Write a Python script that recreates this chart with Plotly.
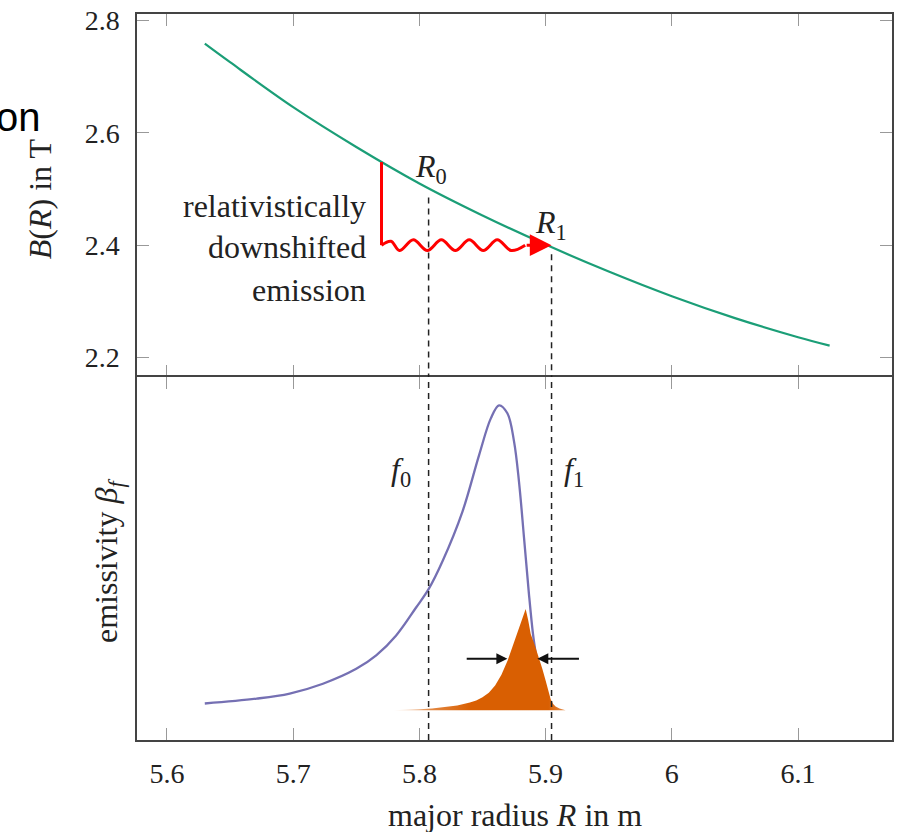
import plotly.graph_objects as go

# ---------------- data ----------------
# top panel: magnetic field B(R)
B_R = [5.630, 5.650, 5.700, 5.750, 5.800, 5.850, 5.900, 5.950, 6.000, 6.050, 6.100, 6.125]
B_T = [2.759, 2.726, 2.646, 2.575, 2.510, 2.453, 2.401, 2.353, 2.309, 2.270, 2.236, 2.221]

# bottom panel: emissivity (arbitrary units, 0..1 of panel)
emis_R = [5.630, 5.6711, 5.6973, 5.7236, 5.750, 5.7658, 5.7816, 5.7974, 5.8073, 5.8184,
          5.8342, 5.8473, 5.8566, 5.8631, 5.8697, 5.8750, 5.8789, 5.8829, 5.8868, 5.8900, 5.8926]
emis_v = [0.1005, 0.114, 0.128, 0.155, 0.196, 0.233, 0.288, 0.365, 0.4155, 0.493,
          0.630, 0.785, 0.886, 0.922, 0.900, 0.822, 0.712, 0.557, 0.402, 0.292, 0.228]

# orange (narrow) emission line
peak_R = [5.779, 5.790, 5.800, 5.810, 5.820, 5.830, 5.840, 5.845, 5.850, 5.855, 5.860, 5.865,
          5.870, 5.875, 5.880, 5.8842, 5.8862, 5.8882, 5.8915, 5.8947, 5.8975, 5.900, 5.902,
          5.904, 5.906, 5.9079, 5.911, 5.9158]
peak_v = [0.082, 0.083, 0.085, 0.087, 0.090, 0.095, 0.103, 0.109, 0.118, 0.130, 0.150, 0.180,
          0.220, 0.268, 0.318, 0.361, 0.330, 0.292, 0.260, 0.228, 0.195, 0.164, 0.135,
          0.112, 0.099, 0.092, 0.087, 0.084]
peak_base = 0.082

# annotation positions
R0 = 5.8073
R1 = 5.9047
R0_dash_top = 2.485
R1_dash_top = 2.384
shift_R = 5.770
shift_B_top = 2.548
shift_B_bottom = 2.400
wave_R = [5.770, 5.7775, 5.7842, 5.7952, 5.8063, 5.8174, 5.8285, 5.8395, 5.8506, 5.8617, 5.8727, 5.8838]
wave_B = [2.400, 2.407, 2.3905, 2.4095, 2.3905, 2.4095, 2.3905, 2.4095, 2.3905, 2.4095, 2.3905, 2.400]
width_y = 0.2237
left_arrow = (5.8363, 5.8697)   # tail, tip
right_arrow = (5.9276, 5.8934)  # tail, tip

x_ticks = [5.6, 5.7, 5.8, 5.9, 6.0, 6.1]
x_ticktext = ["5.6", "5.7", "5.8", "5.9", "6", "6.1"]
y_ticks = [2.2, 2.4, 2.6, 2.8]
y_ticktext = ["2.2", "2.4", "2.6", "2.8"]

x_range = [5.5763, 6.1744]
yB_range = [2.1651, 2.8119]
yE_range = [0.0, 1.0]

GREEN = "#1b9e77"
ORANGE = "#d95f02"
PURPLE = "#7570b3"
RED = "#ff0000"
SERIF = "Liberation Serif, DejaVu Serif, serif"

fig = go.Figure()

# B(R)
fig.add_trace(go.Scatter(x=B_R, y=B_T, mode="lines", line=dict(color=GREEN, width=2.2, shape="spline"),
                         xaxis="x", yaxis="y", hoverinfo="skip"))
# red vertical
fig.add_trace(go.Scatter(x=[shift_R, shift_R], y=[shift_B_top, shift_B_bottom], mode="lines",
                         line=dict(color=RED, width=3), xaxis="x", yaxis="y", hoverinfo="skip"))
# red wave
fig.add_trace(go.Scatter(x=wave_R, y=wave_B, mode="lines",
                         line=dict(color=RED, width=3, shape="spline", smoothing=1.0),
                         xaxis="x", yaxis="y", hoverinfo="skip"))

# emissivity
fig.add_trace(go.Scatter(x=emis_R, y=emis_v, mode="lines",
                         line=dict(color=PURPLE, width=2.3, shape="spline", smoothing=1.0),
                         xaxis="x2", yaxis="y2", hoverinfo="skip"))
# orange filled peak
fig.add_trace(go.Scatter(x=peak_R + [peak_R[-1], peak_R[0]], y=peak_v + [peak_base, peak_base],
                         mode="lines", line=dict(width=0, color=ORANGE), fill="toself",
                         fillgradient=dict(type="horizontal",
                                           colorscale=[[0, "rgba(217,95,2,0.05)"],
                                                       [0.22, "rgba(217,95,2,0.75)"],
                                                       [0.45, "rgba(217,95,2,1)"],
                                                       [0.9, "rgba(217,95,2,1)"],
                                                       [1, "rgba(217,95,2,0.7)"]]),
                         xaxis="x2", yaxis="y2", hoverinfo="skip"))
# invisible trace to activate the overlay tick axis
fig.add_trace(go.Scatter(x=[x_range[0]], y=[yB_range[0]], mode="markers", marker=dict(opacity=0),
                         xaxis="x3", yaxis="y", hoverinfo="skip"))

tick_common = dict(ticks="inside", ticklen=12, tickcolor="#999", tickwidth=1.3,
                   showgrid=False, zeroline=False)
line_common = dict(showline=True, linecolor="#444", linewidth=1.5)

fig.update_layout(
    width=900, height=832,
    margin=dict(l=137, r=6, t=10, b=92),
    plot_bgcolor="white", paper_bgcolor="white",
    showlegend=False,
    font=dict(family=SERIF, size=28, color="#222"),
    # top panel: line only at the top edge, ticks pointing down
    xaxis=dict(domain=[0, 1], anchor="y", side="top", range=x_range, tickvals=x_ticks,
               showticklabels=False, mirror=False, **line_common, **tick_common),
    # overlay axis giving the upward ticks on the lower edge of the top panel (no line)
    xaxis3=dict(overlaying="x", anchor="y", side="bottom", range=x_range, tickvals=x_ticks,
                showticklabels=False, showline=False, **tick_common),
    yaxis=dict(domain=[0.5, 1], anchor="x", range=yB_range, tickvals=y_ticks, ticktext=y_ticktext,
               mirror="ticks", ticklabelstandoff=10, **line_common, **tick_common),
    xaxis2=dict(domain=[0, 1], anchor="y2", range=x_range, tickvals=x_ticks, ticktext=x_ticktext,
                mirror="ticks", ticklabelstandoff=8, **line_common, **tick_common),
    yaxis2=dict(domain=[0, 0.5], anchor="x2", range=yE_range, showticklabels=False,
                mirror=True, ticks="", showgrid=False, zeroline=False, **line_common),
)

dash = dict(color="#222", width=1.5, dash="6px,5px")
for Rv, top in [(R0, R0_dash_top), (R1, R1_dash_top)]:
    fig.add_shape(type="line", xref="x", yref="y", x0=Rv, x1=Rv, y0=top, y1=yB_range[0], line=dash)
    fig.add_shape(type="line", xref="x2", yref="y2", x0=Rv, x1=Rv, y0=yE_range[0], y1=yE_range[1], line=dash)

ann = []
# red arrow head
ann.append(dict(x=R1, y=shift_B_bottom, ax=wave_R[-1], ay=shift_B_bottom, xref="x", yref="y",
                axref="x", ayref="y", showarrow=True, arrowhead=2, arrowsize=1.45, arrowwidth=3,
                arrowcolor=RED, text="", standoff=0))
# width arrows
for tail, tip in [left_arrow, right_arrow]:
    ann.append(dict(x=tip, y=width_y, ax=tail, ay=width_y, xref="x2", yref="y2",
                    axref="x2", ayref="y2", showarrow=True, arrowhead=2, arrowsize=1.1, arrowwidth=2,
                    arrowcolor="#111", text="", standoff=0))
# labels
tfont = dict(family=SERIF, size=32, color="#222")
ann.append(dict(x=5.809, y=2.537, xref="x", yref="y", text="<i>R</i><sub>0</sub>", showarrow=False, font=tfont))
ann.append(dict(x=5.904, y=2.437, xref="x", yref="y", text="<i>R</i><sub>1</sub>", showarrow=False, font=tfont))
for txt, yy in [("relativistically", 2.470), ("downshifted", 2.396), ("emission", 2.321)]:
    ann.append(dict(x=5.7589, y=yy, xref="x", yref="y", text=txt, showarrow=False, font=tfont,
                    xanchor="right", yanchor="middle"))
ann.append(dict(x=5.7855, y=0.74, xref="x2", yref="y2", text="<i>f</i><sub>0</sub>", showarrow=False, font=tfont))
ann.append(dict(x=5.9223, y=0.74, xref="x2", yref="y2", text="<i>f</i><sub>1</sub>", showarrow=False, font=tfont))

# axis titles (pixel placed)
def px_x(p):
    return (p - 137) / 757.0
def px_y(p):
    return (740 - p) / 730.0

ann.append(dict(x=px_x(40), y=px_y(196), xref="paper", yref="paper", text="<i>B</i>(<i>R</i>) in T",
                textangle=-90, showarrow=False, font=tfont, xanchor="center", yanchor="middle"))
ann.append(dict(x=px_x(109), y=px_y(560), xref="paper", yref="paper", text="emissivity <i>β<sub>f</sub></i>",
                textangle=-90, showarrow=False, font=tfont, xanchor="center", yanchor="middle"))
ann.append(dict(x=px_x(516), y=px_y(815), xref="paper", yref="paper", text="major radius <i>R</i> in m",
                showarrow=False, font=tfont, xanchor="center", yanchor="middle"))
# clipped leftover text at the top-left
ann.append(dict(x=px_x(43), y=px_y(114), xref="paper", yref="paper", text="on",
                showarrow=False, font=dict(family="Liberation Sans, Arial, sans-serif", size=40, color="#000"),
                xanchor="right", yanchor="middle"))

fig.update_layout(annotations=ann)
fig.write_html("out.html", config={"displayModeBar": False},
               post_script="document.body.style.margin='0px';")
